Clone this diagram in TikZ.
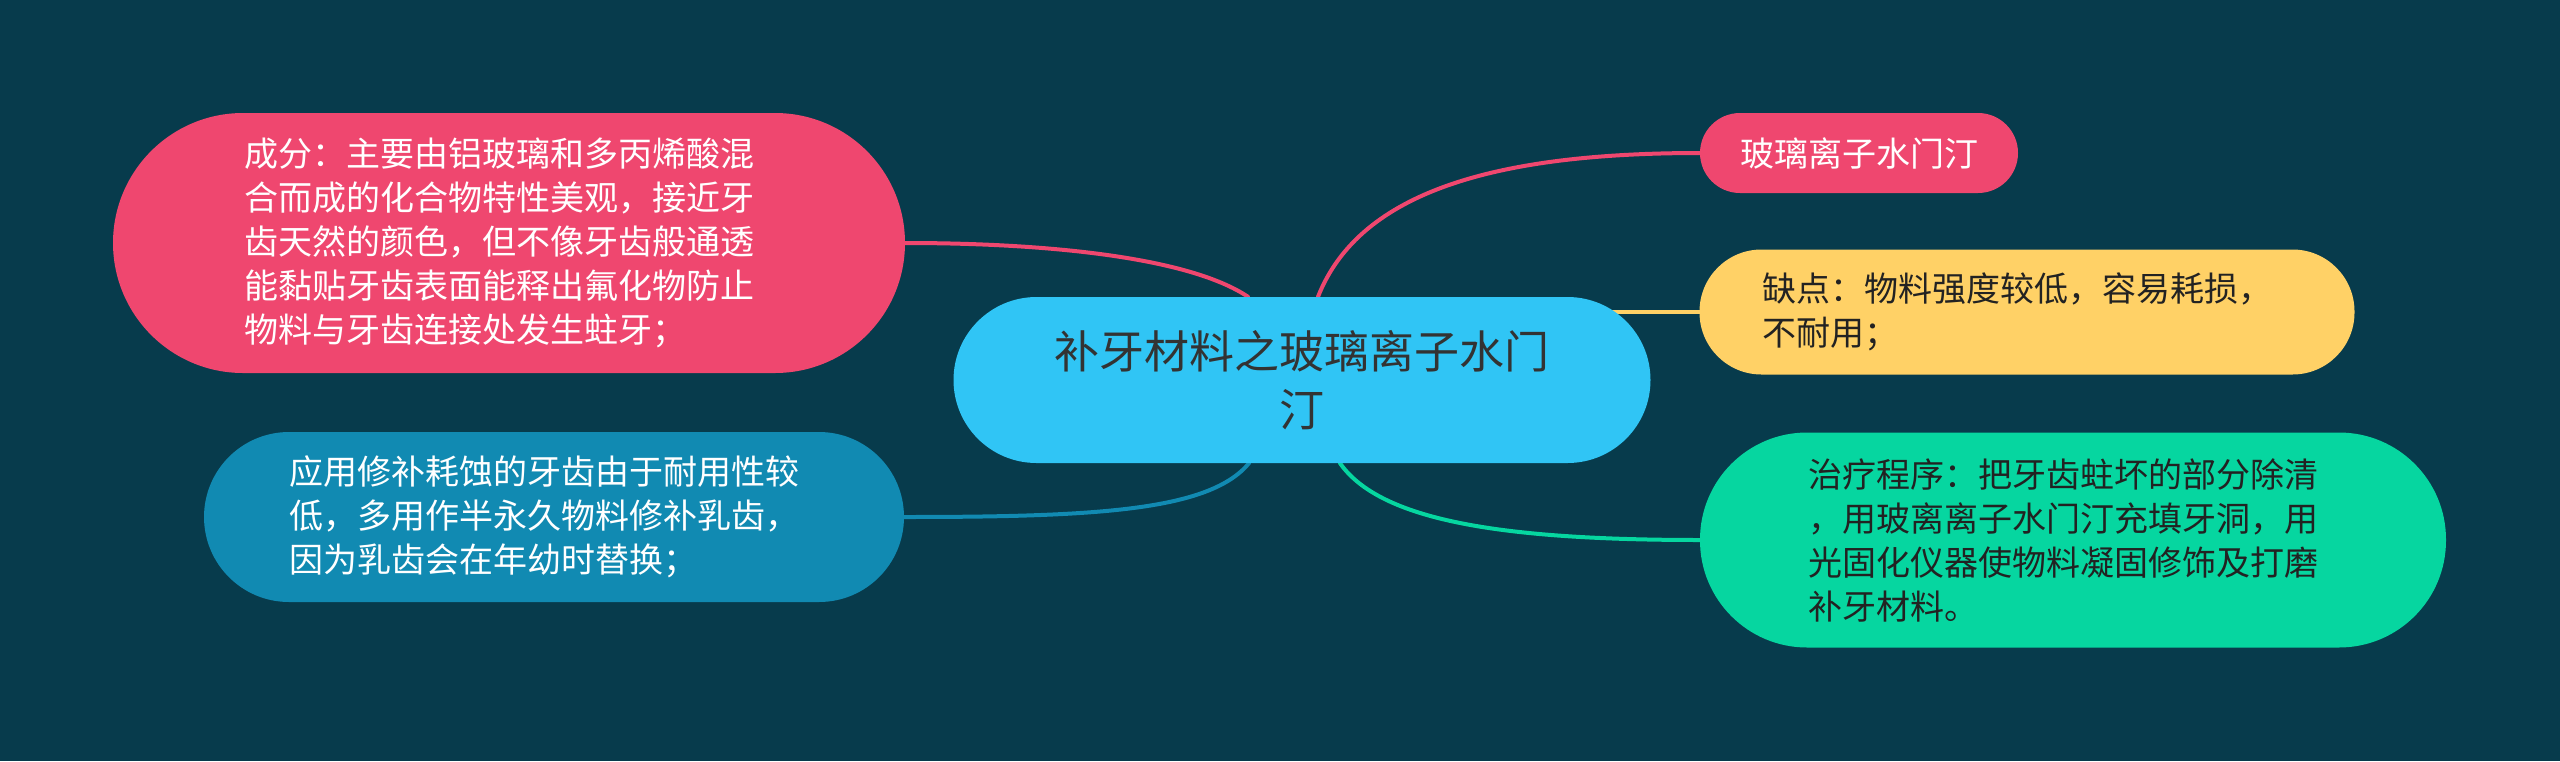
\documentclass[tikz,border=0pt]{standalone}
\usepackage{fontspec}
\newfontfamily\cjk{Noto Sans CJK SC}
\usetikzlibrary{calc}
\pgfdeclarelayer{back}
\pgfdeclarelayer{lines}
\pgfsetlayers{back,lines,main}
\definecolor{bgc}{HTML}{073B4C}
\definecolor{cpink}{HTML}{EF476F}
\definecolor{cyel}{HTML}{FFD166}
\definecolor{cgrn}{HTML}{06D6A0}
\definecolor{cblu}{HTML}{118AB2}
\definecolor{cctr}{HTML}{30C5F5}
\definecolor{dtext}{HTML}{222222}
\definecolor{ctext}{HTML}{333333}
\tikzset{
  leaf/.style={inner sep=0pt, font=\cjk\fontsize{34}{44}\selectfont, align=left, text width=530},
  small/.style={inner sep=0pt, font=\cjk\fontsize{34}{44}\selectfont},
  hub/.style={inner sep=0pt, font=\cjk\fontsize{45}{58}\selectfont, align=center, text width=520, text=ctext, fill=cctr},
  link/.style={line width=4, line cap=round},
}
\begin{document}
\begin{tikzpicture}[x=1pt,y=-1pt]
\begin{pgfonlayer}{back}
\fill[bgc] (0,0) rectangle (2560,761);
\end{pgfonlayer}
\useasboundingbox (0,0) rectangle (2560,761);

\node[hub, minimum width=697, minimum height=166, rounded corners=83] (ctr) at (1302,380)
  {补牙材料之玻璃离子水门\\汀};

\node[leaf, fill=cpink, text=white, minimum width=792, minimum height=260, rounded corners=130] (comp) at (509,243)
  {成分：主要由铝玻璃和多丙烯酸混\\合而成的化合物特性美观，接近牙\\齿天然的颜色，但不像牙齿般通透\\能黏贴牙齿表面能释出氟化物防止\\物料与牙齿连接处发生蛀牙；};

\node[leaf, fill=cblu, text=white, minimum width=700, minimum height=170, rounded corners=85] (use) at (554,517)
  {应用修补耗蚀的牙齿由于耐用性较\\低，多用作半永久物料修补乳齿，\\因为乳齿会在年幼时替换；};

\node[small, fill=cpink, text=white, minimum width=318, minimum height=80, rounded corners=40] (name) at (1859,153)
  {玻璃离子水门汀};

\node[leaf, fill=cyel, text=dtext, minimum width=655, minimum height=125, rounded corners=62] (weak) at (2027,312)
  {缺点：物料强度较低，容易耗损，\\不耐用；};

\node[leaf, fill=cgrn, text=dtext, minimum width=746, minimum height=215, rounded corners=107] (proc) at (2073,540)
  {治疗程序：把牙齿蛀坏的部分除清\\，用玻离离子水门汀充填牙洞，用\\光固化仪器使物料凝固修饰及打磨\\补牙材料。};

\begin{pgfonlayer}{lines}
\draw[link, cpink] (comp.east) .. controls +(145,0) and +(-58,-39) .. ($(ctr.north)+(-54,0)$);
\draw[link, cpink] ($(ctr.north)+(16,0)$) .. controls +(42,-107) and +(-200,0) .. (name.west);
\draw[link, cyel] (ctr.center |- weak.west) -- (weak.west);
\draw[link, cgrn] ($(ctr.south)+(38,0)$) .. controls +(40,57) and +(-200,0) .. (proc.west);
\draw[link, cblu] ($(ctr.south)+(-53,0)$) .. controls +(-39,47) and +(196,0) .. (use.east);
\end{pgfonlayer}
\end{tikzpicture}
\end{document}
